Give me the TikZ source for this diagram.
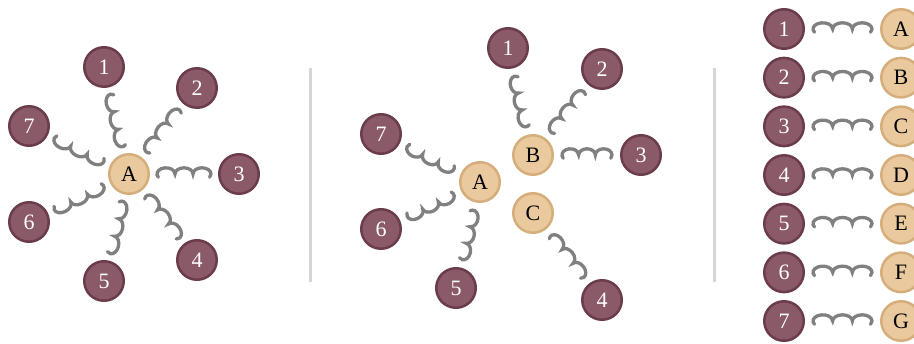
\documentclass[tikz,border=0pt]{standalone}
\usepackage{fontspec}
\setmainfont{Liberation Serif}
\usetikzlibrary{calc,decorations}
\definecolor{purp}{HTML}{8A5A68}
\definecolor{purpd}{HTML}{6B3D4B}
\definecolor{beige}{HTML}{E9C99D}
\definecolor{beiged}{HTML}{D5AE7C}
\definecolor{sprg}{HTML}{808080}
\definecolor{divg}{HTML}{D6D6D6}
\def\sprbeta{0}\def\sprgamma{32}\def\sprb{6.2}
\pgfdeclaredecoration{springy}{first}{%
  \state{first}[width={\pgfdecoratedpathlength/3-0.05pt}, next state=middle]{%
    \pgfmathsetmacro\sprw{\pgfdecoratedpathlength/3}%
    \pgfmathsetmacro\spra{\sprw/2/cos(\sprbeta)}%
    \pgfmathsetmacro\sprs{180+\sprbeta+\sprgamma}%
    \pgfmathsetmacro\spre{-\sprbeta}%
    \pgfmathsetmacro\sprx{\sprw/2+\spra*cos(\sprs)}%
    \pgfmathsetmacro\spry{\sprb*sin(\sprs)}%
    \pgfpathmoveto{\pgfpoint{\sprx pt}{\spry pt}}%
    \pgfpatharc{\sprs}{\spre}{\spra pt and \sprb pt}%
  }%
  \state{middle}[width={\pgfdecoratedpathlength/3-0.05pt}, next state=last]{%
    \pgfmathsetmacro\sprw{\pgfdecoratedpathlength/3}%
    \pgfmathsetmacro\spra{\sprw/2/cos(\sprbeta)}%
    \pgfmathsetmacro\sprs{180+\sprbeta}%
    \pgfmathsetmacro\spre{-\sprbeta}%
    \pgfpatharc{\sprs}{\spre}{\spra pt and \sprb pt}%
  }%
  \state{last}[width={\pgfdecoratedpathlength/3-0.05pt}, next state=final]{%
    \pgfmathsetmacro\sprw{\pgfdecoratedpathlength/3}%
    \pgfmathsetmacro\spra{\sprw/2/cos(\sprbeta)}%
    \pgfmathsetmacro\sprs{180+\sprbeta}%
    \pgfmathsetmacro\spre{-\sprbeta-\sprgamma}%
    \pgfpatharc{\sprs}{\spre}{\spra pt and \sprb pt}%
  }%
  \state{final}{}%
}
\tikzset{
  num/.style={circle, fill=purp, draw=purpd, line width=2.5pt, minimum size=39.5pt,
    inner sep=0pt, text=white, font=\fontsize{22}{22}\selectfont},
  lett/.style={circle, fill=beige, draw=beiged, line width=2.5pt, minimum size=39.5pt,
    inner sep=0pt, text=black, font=\fontsize{22}{22}\selectfont},
  spr/.style={draw=sprg, line width=3.3pt, line cap=round, decorate, decoration={springy}},
  divider/.style={draw=divg, line width=3pt}
}
\begin{document}
\begin{tikzpicture}[x=1pt, y=-1pt]
\useasboundingbox (0,0) rectangle (914,344);
% dividers
\coordinate (d1t) at (310,68); \coordinate (d1b) at (310,282);
\coordinate (d2t) at (714,68); \coordinate (d2b) at (714,282);
\draw[divider] (d1t) -- (d1b);
\draw[divider] (d2t) -- (d2b);
% panel 1
\node[lett] (pA) at (129,174) {A};
\foreach \i/\x/\y in {1/104/67, 2/197/88, 3/239/174, 4/197/260, 5/104/281, 6/29/222, 7/29/126}
  \node[num] (p\i) at (\x,\y) {\i};
\foreach \i in {1,...,7}
  \draw[spr] ($(pA)!28pt!(p\i)$) -- ($(p\i)!28pt!(pA)$);
% panel 2
\node[lett] (qA) at (480,182) {A};
\node[lett] (qB) at (533,155) {B};
\node[lett] (qC) at (533,213) {C};
\foreach \i/\x/\y in {1/508/48, 2/602/69, 3/641/155, 4/602/300, 5/456/288, 6/381/229, 7/381/134}
  \node[num] (q\i) at (\x,\y) {\i};
\foreach \s/\t in {A/5, A/6, A/7, B/1, B/2, B/3, C/4}
  \draw[spr] ($(q\s)!29pt!(q\t)$) -- ($(q\t)!29pt!(q\s)$);
% panel 3
\foreach \i/\L in {1/A, 2/B, 3/C, 4/D, 5/E, 6/F, 7/G} {
  \node[num] (r\i) at (784,{29+48.67*(\i-1)}) {\i};
  \node[lett] (r\L) at (901,{29+48.67*(\i-1)}) {\L};
  \draw[spr] ($(r\i)!29pt!(r\L)$) -- ($(r\L)!29pt!(r\i)$);
}
\end{tikzpicture}
\end{document}
